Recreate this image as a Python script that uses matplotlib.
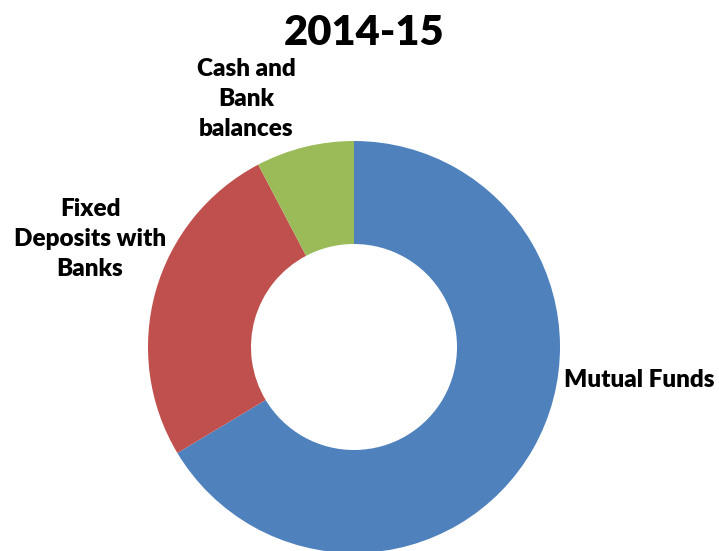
import matplotlib
matplotlib.use("Agg")
import matplotlib.pyplot as plt

# slice data (percent of total)
labels = ["Mutual Funds", "Fixed\nDeposits with\nBanks", "Cash and\nBank\nbalances"]
values = [66.4, 25.9, 7.7]
colors = ["#4F81BD", "#C0504D", "#9BBB59"]
title = "2014-15"

plt.rcParams['font.family'] = ['Lato', 'DejaVu Sans']

fig = plt.figure(figsize=(7.19, 5.51), dpi=100)
ax = fig.add_axes([0, 0, 1, 1])

# pixel-space layout: center at (354, 347 from top), outer radius 206
cx, cy, r = 354, 551 - 347, 206
ax.pie(values, colors=colors, startangle=90, counterclock=False,
       center=(cx, cy), radius=r, frame=True,
       wedgeprops=dict(width=r * 0.5, linewidth=0))
ax.set_xlim(0, 719)
ax.set_ylim(0, 551)
ax.set_aspect('equal')
ax.axis('off')

label_pos = [(639, 551 - 380), (90, 551 - 239), (246, 551 - 99)]
for lab, (x, y) in zip(labels, label_pos):
    ax.text(x, y, lab, ha='center', va='center', fontsize=17.5,
            fontweight='heavy', linespacing=1.45)

ax.text(364, 551 - 33, title, ha='center', va='center', fontsize=30,
        fontweight='heavy')

fig.savefig("out.png", dpi=100)
